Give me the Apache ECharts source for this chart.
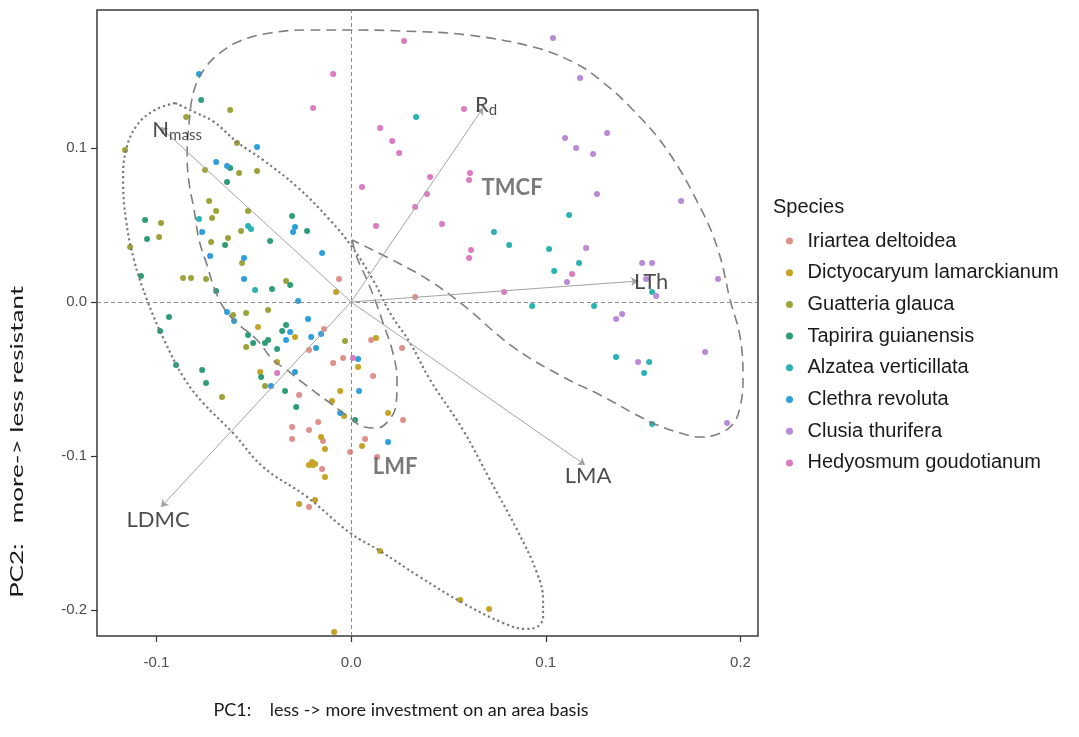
<!DOCTYPE html>
<html>
<head>
<meta charset="utf-8">
<script src="https://cdn.jsdelivr.net/npm/echarts@6.0.0/dist/echarts.min.js"></script>
<style>
  html, body { margin: 0; padding: 0; background: #ffffff; }
  #chart { width: 1079px; height: 737px; }
</style>
</head>
<body>
<div id="chart"></div>
<script>
// ---- Species (legend order) ----
const speciesNames = [
  'Iriartea deltoidea', 'Dictyocaryum lamarckianum', 'Guatteria glauca',
  'Tapirira guianensis', 'Alzatea verticillata', 'Clethra revoluta',
  'Clusia thurifera', 'Hedyosmum goudotianum'
];
const speciesColors = ['#e0908a', '#c6a227', '#9da33a', '#2f9e76', '#2ab3b0', '#2e9fdc', '#b98ad8', '#dc7cc0'];

// ---- PCA scores [PC1, PC2] per species ----
const iriartea = [
  [-0.0062, 0.0149], [-0.0139, -0.0175], [-0.0216, -0.0312], [-0.0092, -0.0396], [-0.0041, -0.0364],
  [0.0113, -0.0481], [0.0103, -0.0247], [0.0262, -0.0299], [-0.0267, -0.0604], [-0.0303, -0.0812],
  [-0.0216, -0.0831], [-0.0169, -0.0779], [-0.0144, -0.0903], [-0.0303, -0.0890], [-0.0005, -0.0974],
  [0.0072, -0.0890], [0.0134, -0.1006], [-0.0149, -0.1084], [-0.0216, -0.1331], [0.0267, -0.0766],
  [0.0329, 0.0032]
];
const dictyocaryum = [
  [-0.0077, 0.0065], [-0.0478, -0.0162], [-0.0288, -0.0227], [-0.0380, -0.0390], [-0.0467, -0.0455],
  [0.0128, -0.0234], [0.0036, -0.0422], [-0.0056, -0.0578], [-0.0098, -0.0643], [-0.0036, -0.0740],
  [0.0190, -0.0721], [0.0056, -0.0935], [-0.0154, -0.0877], [-0.0134, -0.0955], [-0.0216, -0.1058],
  [-0.0200, -0.1039], [-0.0195, -0.1058], [-0.0185, -0.1052], [-0.0134, -0.1136], [-0.0267, -0.1312],
  [-0.0185, -0.1286], [0.0149, -0.1617], [0.0560, -0.1935], [0.0709, -0.1994], [-0.0087, -0.2143]
];
const guatteria = [
  [-0.0621, 0.1247], [-0.0847, 0.1201], [-0.1161, 0.0987], [-0.0586, 0.1032], [-0.0575, 0.0838],
  [-0.0483, 0.0851], [-0.0750, 0.0857], [-0.0729, 0.0656], [-0.0693, 0.0591], [-0.0714, 0.0545],
  [-0.0529, 0.0591], [-0.0976, 0.0513], [-0.0565, 0.0461], [-0.0986, 0.0422], [-0.0719, 0.0390],
  [-0.0632, 0.0416], [-0.1135, 0.0357], [-0.0560, 0.0253], [-0.0863, 0.0156], [-0.0822, 0.0156],
  [-0.0745, 0.0149], [-0.0334, 0.0136], [-0.0663, -0.0617], [-0.0606, -0.0084], [-0.0539, -0.0071],
  [-0.0426, -0.0052], [-0.0539, -0.0292], [-0.0442, -0.0545], [-0.0031, -0.0253]
];
const tapirira = [
  [-0.0770, 0.1312], [-0.0621, 0.0870], [-0.0637, 0.0779], [-0.0303, 0.0558], [-0.0226, 0.0461],
  [-0.1058, 0.0532], [-0.1048, 0.0409], [-0.0647, 0.0370], [-0.0416, 0.0396], [-0.1079, 0.0169],
  [-0.0313, 0.0110], [-0.0406, 0.0084], [-0.0693, 0.0071], [-0.0935, -0.0097], [-0.0981, -0.0188],
  [-0.0899, -0.0409], [-0.0765, -0.0442], [-0.0745, -0.0526], [-0.0334, -0.0149], [-0.0354, -0.0188],
  [-0.0529, -0.0214], [-0.0503, -0.0266], [-0.0426, -0.0247], [-0.0442, -0.0266], [-0.0380, -0.0305],
  [-0.0462, -0.0487], [-0.0339, -0.0578], [-0.0282, -0.0682], [0.0021, -0.0766]
];
const alzatea = [
  [0.0334, 0.1201], [0.1120, 0.0565], [0.0734, 0.0455], [0.0812, 0.0370], [0.1017, 0.0344],
  [0.1043, 0.0201], [0.1171, 0.0253], [0.1546, 0.0065], [0.0930, -0.0026], [0.1248, -0.0026],
  [0.1361, -0.0357], [0.1531, -0.0390], [0.1505, -0.0461], [0.1546, -0.0792],
  [-0.0781, 0.0539], [-0.0529, 0.0494], [-0.0514, 0.0474], [-0.0493, 0.0078]
];
const clethra = [
  [-0.0781, 0.1481], [-0.0483, 0.1006], [-0.0693, 0.0909], [-0.0637, 0.0883], [-0.0765, 0.0455],
  [-0.0288, 0.0487], [-0.0298, 0.0455], [-0.0149, 0.0318], [-0.0724, 0.0299], [-0.0550, 0.0286],
  [-0.0550, 0.0149], [-0.0272, 0.0006], [-0.0637, -0.0065], [-0.0601, -0.0123], [-0.0221, -0.0110],
  [-0.0154, -0.0208], [-0.0205, -0.0227], [-0.0180, -0.0299], [-0.0313, -0.0195], [-0.0334, -0.0247],
  [-0.0288, -0.0455], [-0.0411, -0.0545], [0.0041, -0.0578], [0.0036, -0.0370], [0.0190, -0.0909],
  [-0.0056, -0.0721]
];
const clusia = [
  [0.1037, 0.1714], [0.1176, 0.1455], [0.1099, 0.1065], [0.1156, 0.1000], [0.1243, 0.0961],
  [0.1315, 0.1097], [0.1263, 0.0701], [0.1695, 0.0656], [0.1207, 0.0351], [0.1109, 0.0130],
  [0.1495, 0.0253], [0.1546, 0.0253], [0.1515, 0.0149], [0.1885, 0.0149], [0.1567, 0.0039],
  [0.1392, -0.0078], [0.1361, -0.0110], [0.1474, -0.0390], [0.1818, -0.0325], [0.1931, -0.0786]
];
const hedyosmum = [
  [0.0272, 0.1695], [-0.0092, 0.1481], [-0.0195, 0.1260], [0.0149, 0.1130], [0.0211, 0.1045],
  [0.0247, 0.0968], [0.0056, 0.0747], [0.0329, 0.0617], [0.0128, 0.0494], [0.0580, 0.1253],
  [0.0611, 0.0838], [0.0606, 0.0792], [0.0406, 0.0812], [0.0390, 0.0701], [0.0467, 0.0506],
  [0.0616, 0.0338], [0.0606, 0.0286], [0.0786, 0.0065], [0.1135, 0.0182], [0.0010, -0.0364],
  [-0.0380, -0.0461]
];
const speciesPoints = [iriartea, dictyocaryum, guatteria, tapirira, alzatea, clethra, clusia, hedyosmum];

// ---- Trait loadings (arrow tips) ----
const loadingNames = ['Nmass', 'Rd', 'LTh', 'LMA', 'LDMC'];
const loadingPC1 = [-0.0981, 0.0678, 0.1474, 0.1202, -0.0976];
const loadingPC2 = [0.1136, 0.1260, 0.0136, -0.1058, -0.1331];

// ---- Forest-type outlines [PC1, PC2] ----
const tmcfOutline = [
  [0.0005, 0.0403], [0.0031, 0.0286], [0.0082, 0.0143], [0.0123, 0.0013], [0.0164, -0.0136],
  [0.0211, -0.0312], [0.0236, -0.0506], [0.0231, -0.0669], [0.0195, -0.0766], [0.0134, -0.0818],
  [0.0067, -0.0812], [-0.0005, -0.0753], [-0.0108, -0.0656], [-0.0247, -0.0526], [-0.0329, -0.0442],
  [-0.0401, -0.0377], [-0.0483, -0.0247], [-0.0586, -0.0136], [-0.0647, -0.0052], [-0.0699, 0.0078],
  [-0.0740, 0.0240], [-0.0781, 0.0403], [-0.0806, 0.0597], [-0.0832, 0.0773], [-0.0842, 0.0942],
  [-0.0832, 0.1162], [-0.0806, 0.1377], [-0.0750, 0.1519], [-0.0673, 0.1617], [-0.0570, 0.1695],
  [-0.0416, 0.1747], [-0.0226, 0.1766], [0.0000, 0.1766], [0.0252, 0.1760], [0.0596, 0.1734],
  [0.0935, 0.1656], [0.1140, 0.1558], [0.1279, 0.1442], [0.1448, 0.1247], [0.1623, 0.0987],
  [0.1792, 0.0617], [0.1885, 0.0338], [0.1947, 0.0013], [0.1998, -0.0227], [0.2013, -0.0487],
  [0.1998, -0.0682], [0.1957, -0.0799], [0.1870, -0.0864], [0.1792, -0.0877], [0.1690, -0.0851],
  [0.1572, -0.0799], [0.1448, -0.0721], [0.1279, -0.0604], [0.1089, -0.0487], [0.0832, -0.0292],
  [0.0575, -0.0019], [0.0406, 0.0136], [0.0252, 0.0247], [0.0005, 0.0403]
];
const lmfOutline = [
  [-0.0904, 0.1292], [-0.0806, 0.1234], [-0.0704, 0.1169], [-0.0586, 0.1039], [-0.0452, 0.0922],
  [-0.0277, 0.0747], [-0.0108, 0.0532], [0.0005, 0.0357], [0.0113, 0.0143], [0.0200, -0.0071],
  [0.0303, -0.0266], [0.0406, -0.0506], [0.0575, -0.0831], [0.0714, -0.1156], [0.0853, -0.1481],
  [0.0955, -0.1760], [0.0986, -0.1935], [0.0986, -0.2045], [0.0955, -0.2110], [0.0894, -0.2123],
  [0.0781, -0.2084], [0.0575, -0.1955], [0.0354, -0.1786], [0.0149, -0.1617], [-0.0005, -0.1500],
  [-0.0226, -0.1266], [-0.0452, -0.1071], [-0.0606, -0.0851], [-0.0760, -0.0656], [-0.0858, -0.0494],
  [-0.0960, -0.0247], [-0.1048, 0.0013], [-0.1115, 0.0273], [-0.1156, 0.0532], [-0.1171, 0.0792],
  [-0.1156, 0.0987], [-0.1099, 0.1149], [-0.1007, 0.1247], [-0.0904, 0.1292]
];
const groupNames = ['TMCF', 'LMF'];
const groupPC1 = [0.0827, 0.0226];
const groupPC2 = [0.0740, -0.1071];

// ---- Axes ----
const xTicks = [-0.1, 0.0, 0.1, 0.2];
const yTicks = [-0.2, -0.1, 0.0, 0.1];
const xRange = [-0.1305, 0.2090];
const yRange = [-0.2169, 0.1896];

// label anchor offsets (px) from the arrow tips
const loadingLabelOffsets = [[17, 3], [3, -3], [13, 1], [3, 11], [-3, 13]];
const loadingRich = { Nmass: '{b|N}{s|mass}', Rd: '{b|R}{s|d}' };

const chart = echarts.init(document.getElementById('chart'), null, { renderer: 'canvas' });

const series = [];

// reference lines through the origin
series.push({
  type: 'line', data: [], silent: true,
  markLine: {
    silent: true, symbol: 'none', label: { show: false },
    lineStyle: { color: '#8c8c8c', width: 1, type: [4, 3] },
    data: [{ xAxis: 0 }, { yAxis: 0 }]
  }
});

// species scores
speciesNames.forEach((name, i) => {
  series.push({
    name: name, type: 'scatter', data: speciesPoints[i],
    symbol: 'circle', symbolSize: 6,
    itemStyle: { color: speciesColors[i], opacity: 1 },
    z: 3
  });
});

// forest-type outlines
series.push({
  type: 'line', data: tmcfOutline, smooth: 0.4, showSymbol: false, silent: true,
  lineStyle: { color: '#7f7f7f', width: 1.6, type: [10, 6] }, z: 4
});
series.push({
  type: 'line', data: lmfOutline, smooth: 0.4, showSymbol: false, silent: true,
  lineStyle: { color: '#7a7a7a', width: 2.2, type: [2.2, 3] }, z: 4
});

// trait loading arrows
series.push({
  type: 'lines', coordinateSystem: 'cartesian2d', silent: true, z: 5,
  symbol: ['none', 'arrow'], symbolSize: 7,
  lineStyle: { color: '#a3a3a3', width: 1, opacity: 1 },
  data: loadingNames.map((n, i) => ({ coords: [[0, 0], [loadingPC1[i], loadingPC2[i]]] }))
});

// trait labels
series.push({
  type: 'scatter', symbolSize: 0, silent: true, z: 6,
  data: loadingNames.map((n, i) => ({
    name: n, value: [loadingPC1[i], loadingPC2[i]],
    label: { offset: loadingLabelOffsets[i] }
  })),
  label: {
    show: true, position: 'inside', align: 'center', verticalAlign: 'middle',
    formatter: p => loadingRich[p.name] || ('{b|' + p.name + '}'),
    rich: {
      b: { fontFamily: 'Lato', fontSize: 22, color: '#1f1f1f', lineHeight: 28 },
      s: { fontFamily: 'Lato', fontSize: 15, color: '#1f1f1f', lineHeight: 28, padding: [11, 0, 0, 0] }
    }
  }
});

// forest-type labels
series.push({
  type: 'scatter', symbolSize: 0, silent: true, z: 6,
  data: groupNames.map((n, i) => ({ name: n, value: [groupPC1[i], groupPC2[i]] })),
  label: {
    show: true, position: 'inside', formatter: p => p.name,
    fontFamily: 'Lato', fontWeight: 'bold', fontSize: 22, color: '#595959'
  }
});

chart.setOption({
  animation: false,
  backgroundColor: '#ffffff',
  grid: { left: 97, top: 10, width: 661, height: 626, show: true, borderColor: '#3a3a3a', borderWidth: 1.5, backgroundColor: 'transparent' },
  xAxis: {
    type: 'value', min: xRange[0], max: xRange[1],
    splitLine: { show: false }, axisLine: { show: false, onZero: false },
    axisTick: { show: true, inside: false, length: 6, customValues: xTicks, lineStyle: { color: '#333', width: 1.2 } },
    axisLabel: { customValues: xTicks, formatter: v => v.toFixed(1), color: '#4d4d4d', fontSize: 15, fontFamily: 'Liberation Sans', margin: 19 }
  },
  yAxis: {
    type: 'value', min: yRange[0], max: yRange[1],
    splitLine: { show: false }, axisLine: { show: false, onZero: false },
    axisTick: { show: true, inside: false, length: 6, customValues: yTicks, lineStyle: { color: '#333', width: 1.2 } },
    axisLabel: { customValues: yTicks, formatter: v => v.toFixed(1), color: '#4d4d4d', fontSize: 15, fontFamily: 'Liberation Sans', margin: 10 }
  },
  legend: {
    data: speciesNames, orient: 'vertical', left: 781, top: 226,
    icon: 'circle', itemWidth: 26, itemHeight: 7, itemGap: 11.7,
    textStyle: { fontFamily: 'Liberation Sans', fontSize: 20, color: '#1a1a1a' },
    selectedMode: false
  },
  graphic: [
    { type: 'text', left: 773, top: 197, style: { text: 'Species', fontFamily: 'Liberation Sans', fontSize: 20, fill: '#1a1a1a' } },
    { type: 'text', x: 401, y: 710, style: { text: 'PC1:    less -> more investment on an area basis', fontFamily: 'Lato', fontSize: 18, fill: '#1a1a1a', align: 'center', verticalAlign: 'middle' } },
    // vertical title, stretched along its length
    { type: 'text', x: 17, y: 442, rotation: Math.PI / 2, scaleX: 1.45, style: { text: 'PC2:   more-> less resistant', fontFamily: 'Lato', fontSize: 18, fill: '#1a1a1a', align: 'center', verticalAlign: 'middle' } }
  ],
  series: series
});
</script>
</body>
</html>
